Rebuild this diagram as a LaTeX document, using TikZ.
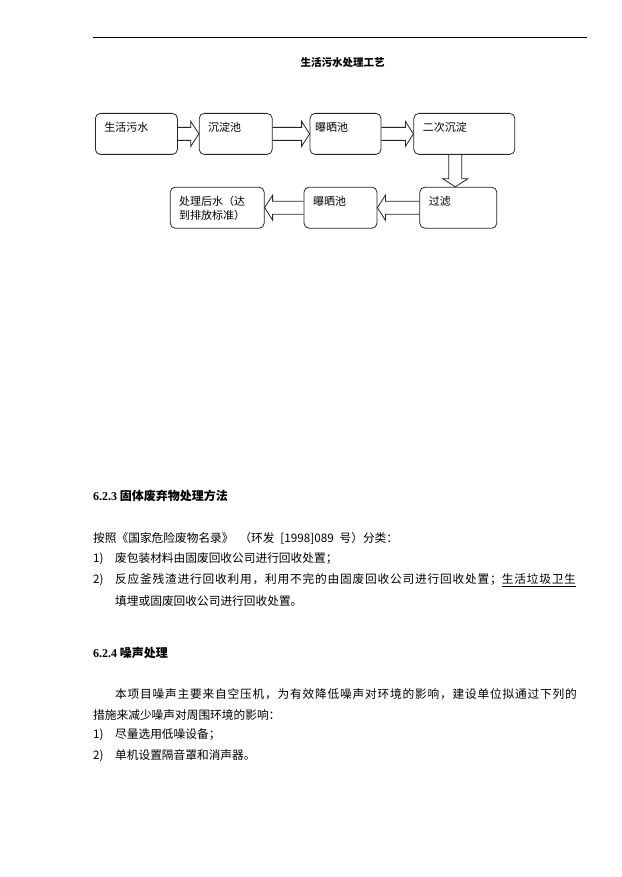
\documentclass[tikz,border=0pt]{standalone}
\usepackage{fontspec}
\setmainfont{Noto Sans CJK SC}
\newfontfamily\numfont{Liberation Serif}
\newfontfamily\widefont[LetterSpace=6.8]{Noto Sans CJK SC}
\usepackage{xcolor}
\usepackage{tikz}
\usetikzlibrary{positioning, calc}

% 空心粗箭头：从 #1 指向 #2
\newcommand{\fatarrow}[2]{%
  \coordinate (ah) at ($(#2)!8pt!(#1)$);
  \draw[flow] ($(#1)!6.5pt!90:(#2)$) -- ($(ah)!6.5pt!90:(#2)$) -- ($(ah)!12.5pt!90:(#2)$) -- (#2)
    -- ($(ah)!12.5pt!-90:(#2)$) -- ($(ah)!6.5pt!-90:(#2)$) -- ($(#1)!6.5pt!-90:(#2)$);}

\begin{document}
\begin{tikzpicture}[
  x=1pt, y=-1pt,
  font=\fontsize{11}{14}\selectfont,
  box/.style={draw=black!85, line width=0.8pt, rounded corners=5pt, align=left, inner xsep=9pt, inner ysep=0pt, text height=18pt, text depth=23pt},
  flow/.style={draw=black!85, line width=0.8pt, line join=miter},
  body/.style={anchor=west, inner sep=0pt, font=\fontsize{11.7}{14}\selectfont},
  hdr/.style={anchor=west, inner sep=0pt, font=\fontsize{12}{14}\selectfont\bfseries}
]
\path[use as bounding box, fill=white] (0,0) rectangle (621,877);
% 页眉
\coordinate (hl) at (93,37);
\coordinate (hr) at (587,37);
\draw[line width=0.8pt] (hl) -- (hr);
\node[font=\fontsize{10.5}{12}\selectfont\bfseries] (title) at (342.5,63) {生活污水处理工艺};
% 第一行
\node[box, text width=64pt, anchor=north west] (b1) at (95,113) {生活污水};
\node[box, text width=55pt, right=21pt of b1] (b2) {沉淀池};
\node[box, text width=61pt, inner xsep=5pt, right=37pt of b2] (b3) {曝晒池};
\node[box, text width=83pt, right=32pt of b3] (b4) {二次沉淀};
% 第二行
\node[box, text width=59pt, below right=32pt and 6pt of b4.south west] (b7) {过滤};
\node[box, text width=55pt, left=42pt of b7] (b6) {曝晒池};
\node[box, text width=76pt, left=39pt of b6] (b5) {处理后水（达\\到排放标准）};
% 箭头
\fatarrow{b1.east}{b2.west}
\fatarrow{b2.east}{b3.west}
\fatarrow{b3.east}{b4.west}
\coordinate (d1) at ([xshift=-9pt]b4.south);
\coordinate (d2) at ([xshift=-3pt]b7.north);
\fatarrow{d1}{d2}
\fatarrow{b7.west}{b6.east}
\fatarrow{b6.west}{b5.east}
% 6.2.3
\node[hdr] (h1) at (93,496) {{\numfont 6.2.3} 固体废弃物处理方法};
\node[body] (p1) at (93,538) {按照《国家危险废物名录》\hspace{0.5em}（环发\hspace{0.5em}[1998]089\hspace{0.5em}号）分类：};
\node[body] (p2) at (93,559) {\makebox[22pt][l]{1)}废包装材料由固废回收公司进行回收处置；};
\node[body] (p3) at (93,580) {\makebox[22pt][l]{2)}{\widefont 反应釜残渣进行回收利用，利用不完的由固废回收公司进行回收处置；\underline{生活垃圾卫生}}};
\node[body] (p4) at (115,601) {填埋或固废回收公司进行回收处置。};
% 6.2.4
\node[hdr] (h2) at (93,653) {{\numfont 6.2.4} 噪声处理};
\node[body] (p5) at (115,694) {{\widefont 本项目噪声主要来自空压机，为有效降低噪声对环境的影响，建设单位拟通过下列的}};
\node[body] (p6) at (93,715) {措施来减少噪声对周围环境的影响：};
\node[body] (p7) at (93,735) {\makebox[22pt][l]{1)}尽量选用低噪设备；};
\node[body] (p8) at (93,756) {\makebox[22pt][l]{2)}单机设置隔音罩和消声器。};
\end{tikzpicture}
\end{document}
